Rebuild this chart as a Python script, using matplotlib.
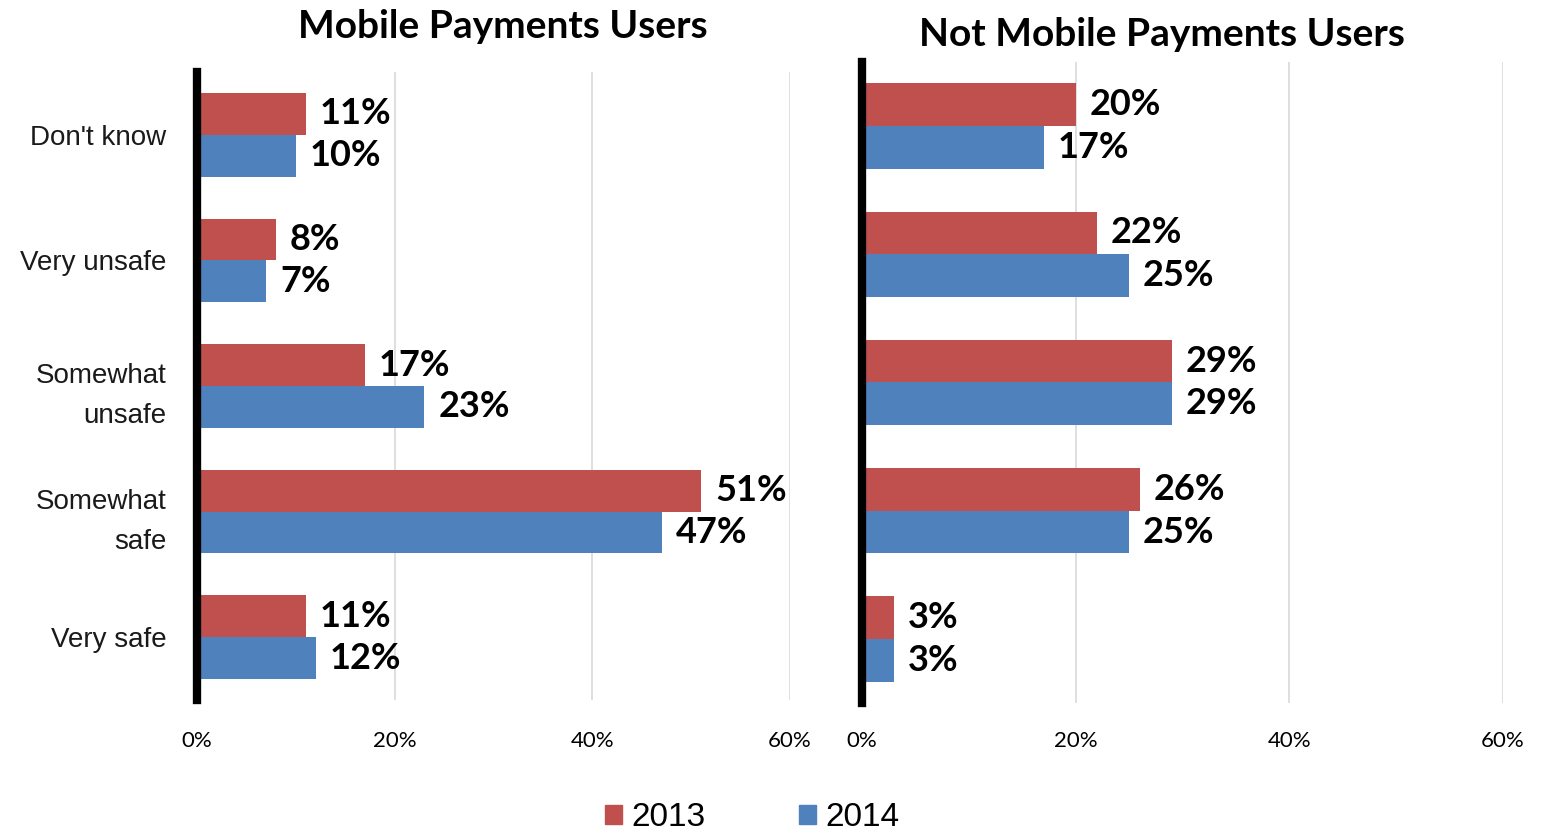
import matplotlib.pyplot as plt
from matplotlib.patches import Patch

categories = ["Don't know", "Very unsafe", "Somewhat\nunsafe", "Somewhat\nsafe", "Very safe"]
users_2013 = [11, 8, 17, 51, 11]
users_2014 = [10, 7, 23, 47, 12]
nonusers_2013 = [20, 22, 29, 26, 3]
nonusers_2014 = [17, 25, 29, 25, 3]
xticks = [0, 20, 40, 60]

RED = "#C0504D"
BLUE = "#4F81BD"
BOLD = ["Lato", "DejaVu Sans"]
PLAIN = ["Liberation Sans", "DejaVu Sans"]

fig = plt.figure(figsize=(15.42, 8.34), dpi=100)
ax1 = fig.add_axes([0.1278, 0.1607, 0.3846, 0.753])
ax2 = fig.add_axes([0.559, 0.1571, 0.4157, 0.7686])


def panel(ax, v13, v14, show_labels, tick_pad):
    y = list(range(len(categories)))
    h = 0.333
    ax.barh([i - h / 2 for i in y], v13, height=h, color=RED, zorder=2)
    ax.barh([i + h / 2 for i in y], v14, height=h, color=BLUE, zorder=2)
    for i, (a, b) in enumerate(zip(v13, v14)):
        ax.annotate(f"{a}%", (a, i - h / 2), xytext=(10, 0), textcoords="offset points",
                    va="center", ha="left", fontsize=26, fontweight="bold", family=BOLD)
        ax.annotate(f"{b}%", (b, i + h / 2), xytext=(10, 0), textcoords="offset points",
                    va="center", ha="left", fontsize=26, fontweight="bold", family=BOLD)
    ax.set_xlim(0, 60)
    ax.set_ylim(4.5, -0.5)
    ax.set_xticks(xticks)
    ax.set_xticklabels([f"{t}%" for t in xticks], fontsize=16, family=["Lato", "DejaVu Sans"])
    ax.tick_params(axis="x", length=0, pad=tick_pad)
    ax.tick_params(axis="y", length=0, pad=22)
    ax.set_yticks(y)
    if show_labels:
        ax.set_yticklabels(categories, fontsize=20, family=PLAIN, linespacing=1.7, color="#1a1a1a")
    else:
        ax.set_yticklabels([])
    ax.grid(axis="x", color="#D9D9D9", linewidth=1.2, zorder=0)
    for s in ["top", "right", "bottom"]:
        ax.spines[s].set_visible(False)
    ax.spines["left"].set_linewidth(6)
    ax.spines["left"].set_color("black")
    ax.spines["left"].set_zorder(3)


panel(ax1, users_2013, users_2014, True, 22)
panel(ax2, nonusers_2013, nonusers_2014, False, 20)

fig.text(503 / 1542, 1 - 27 / 834, "Mobile Payments Users", ha="center", va="center",
         fontsize=28, fontweight="bold", family=BOLD)
fig.text(1162 / 1542, 1 - 35 / 834, "Not Mobile Payments Users", ha="center", va="center",
         fontsize=28, fontweight="bold", family=BOLD)

handles = [Patch(color=RED, label="2013"), Patch(color=BLUE, label="2014")]
fig.legend(handles=handles, loc="center", ncol=2, frameon=False,
           bbox_to_anchor=(0.488, 1 - 818 / 834), handlelength=0.5, handleheight=0.5,
           handletextpad=0.3, columnspacing=2.8, borderpad=0,
           prop={"family": PLAIN, "size": 24})

fig.savefig("out.png", dpi=100)
